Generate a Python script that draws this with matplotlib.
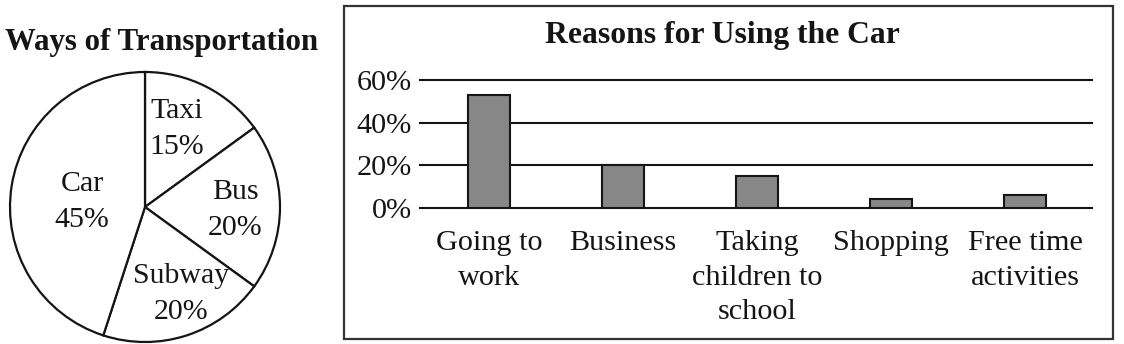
import matplotlib
matplotlib.use("Agg")
import matplotlib.pyplot as plt
from matplotlib.patches import Rectangle

# ---- data ----
pie_labels = ["Taxi", "Bus", "Subway", "Car"]
pie_values = [15, 20, 20, 45]

bar_categories = ["Going to\nwork", "Business", "Taking\nchildren to\nschool",
                  "Shopping", "Free time\nactivities"]
bar_values = [53, 20, 15, 4, 6]
y_ticks = [0, 20, 40, 60]
y_tick_labels = ["0%", "20%", "40%", "60%"]

# ---- style ----
W, H = 1124, 344
SERIF = ["Liberation Serif", "DejaVu Serif"]
plt.rcParams["font.family"] = SERIF
INK = "#151515"
FS = 21.8
PIE_FS = 21.5
TITLE_FS = 22.8

fig = plt.figure(figsize=(W / 100, H / 100), dpi=100)
fig.patch.set_facecolor("white")

def px(x, y, w, h):
    return [x / W, 1 - (y + h) / H, w / W, h / H]

# ---- pie ----
cx, cy, r = 145, 207, 135
axp = fig.add_axes(px(cx - r, cy - r, 2 * r, 2 * r))
wedges, _ = axp.pie(pie_values, startangle=90, counterclock=False,
                    colors=["white"] * len(pie_values),
                    wedgeprops=dict(edgecolor=INK, linewidth=1.6))
axp.set_xlim(-1, 1)
axp.set_ylim(-1, 1)
axp.set_aspect("equal")
axp.axis("off")
for w in wedges:
    w.set_clip_on(False)
label_xy = [(0.237, 0.58), (0.667, -0.025), (0.267, -0.645), (-0.467, 0.035)]
for lab, val, (lx, ly) in zip(pie_labels, pie_values, label_xy):
    axp.text(lx, ly, f"{lab}\n{val}%", ha="center", va="center",
             fontsize=PIE_FS, color=INK, linespacing=1.5)

fig.text(318 / W, 1 - 50 / H, "Ways of Transportation", ha="right",
         va="baseline", fontsize=22.2, fontweight="bold", color=INK)

# ---- bar chart frame ----
fig.patches.append(Rectangle((344 / W, 1 - 339 / H), (1113 - 344) / W,
                             (339 - 6) / H, transform=fig.transFigure,
                             fill=False, edgecolor="#333333", linewidth=1.6))
fig.text(722 / W, 1 - 43 / H, "Reasons for Using the Car", ha="center",
         va="baseline", fontsize=TITLE_FS, fontweight="bold", color=INK)

axb = fig.add_axes(px(420, 80, 1092 - 420, 208 - 80))
xs = list(range(len(bar_categories)))
axb.bar(xs, bar_values, width=0.31, color="#878787", edgecolor=INK,
        linewidth=1.5, zorder=3)
axb.set_xlim(-0.515, 4.5)
axb.set_ylim(0, 60)
axb.set_yticks(y_ticks)
axb.set_yticklabels(y_tick_labels)
axb.set_xticks(xs)
axb.set_xticklabels(bar_categories, linespacing=1.42)
for s in axb.spines.values():
    s.set_visible(False)
axb.yaxis.grid(True, color=INK, linewidth=1.5, zorder=1)
axb.set_axisbelow(True)
for gl in axb.get_ygridlines():
    gl.set_clip_on(False)
axb.tick_params(axis="y", length=0, pad=6, labelsize=FS, labelcolor=INK)
axb.tick_params(axis="x", length=0, pad=16, labelsize=FS, labelcolor=INK)

fig.savefig("out.png", dpi=100, facecolor="white")
